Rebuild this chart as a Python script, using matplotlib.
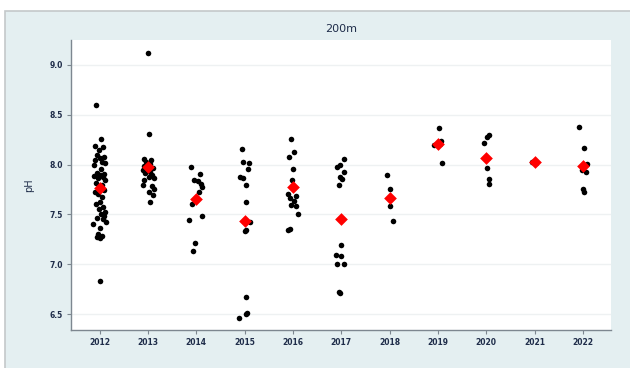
import numpy as np
import matplotlib.pyplot as plt
from matplotlib.patches import Rectangle

# pH readings at 200 m
years = [2012, 2013, 2014, 2015, 2016, 2017, 2018, 2019, 2020, 2021, 2022]

ph_2012 = [8.60, 8.26, 8.19, 8.18, 8.15, 8.10, 8.08, 8.07, 8.05, 8.03, 8.02,
           8.00, 7.96, 7.92, 7.91, 7.90, 7.89, 7.88, 7.87, 7.85, 7.82, 7.80,
           7.78, 7.74, 7.72, 7.70, 7.67, 7.62, 7.60, 7.57, 7.55, 7.52, 7.50,
           7.48, 7.46, 7.45, 7.42, 7.40, 7.36, 7.30, 7.28, 7.27, 7.26, 6.83]
jit_2012 = [-0.08, 0.03, -0.10, 0.08, -0.02, -0.05, 0.09, 0.02, -0.09, 0.06,
            0.12, -0.12, 0.04, -0.06, 0.10, 0.00, -0.11, 0.07, -0.03, 0.11,
            -0.08, 0.05, -0.01, 0.09, -0.10, -0.04, 0.06, 0.00, -0.07, 0.08,
            -0.02, 0.11, 0.03, 0.10, -0.05, 0.07, 0.13, -0.14, 0.02, -0.04,
            0.06, -0.06, 0.01, 0.00]

ph_2013 = [9.12, 8.31, 8.06, 8.05, 8.03, 8.01, 7.99, 7.97, 7.95, 7.93, 7.92,
           7.90, 7.88, 7.87, 7.85, 7.80, 7.78, 7.75, 7.72, 7.69, 7.62]
jit_2013 = [0.00, 0.02, -0.09, 0.07, -0.03, 0.04, -0.08, 0.10, -0.11, 0.05,
            -0.05, 0.09, 0.02, 0.12, -0.07, -0.10, 0.08, 0.13, 0.03, 0.11, 0.05]

ph_2014 = [7.98, 7.91, 7.85, 7.84, 7.81, 7.77, 7.72, 7.60, 7.48, 7.44, 7.21, 7.13]
jit_2014 = [-0.10, 0.07, -0.04, 0.03, 0.09, 0.12, 0.06, -0.08, 0.12, -0.14,
            -0.02, -0.06]

ph_2015 = [8.16, 8.03, 8.02, 7.96, 7.88, 7.87, 7.80, 7.62, 7.42, 7.34, 7.33,
           6.67, 6.51, 6.50, 6.46]
jit_2015 = [-0.05, -0.04, 0.10, 0.08, -0.09, -0.03, 0.02, 0.04, 0.12, 0.02,
            0.00, 0.02, 0.06, 0.03, -0.12]

ph_2016 = [8.26, 8.13, 8.08, 7.96, 7.85, 7.70, 7.68, 7.66, 7.63, 7.59, 7.58,
           7.50, 7.35, 7.34]
jit_2016 = [-0.04, 0.02, -0.08, 0.00, -0.01, -0.10, 0.06, -0.06, 0.02, -0.03,
            0.06, 0.10, -0.06, -0.10]

ph_2017 = [8.06, 8.00, 7.98, 7.93, 7.88, 7.86, 7.80, 7.19, 7.09, 7.08, 7.00,
           7.00, 6.72, 6.71]
jit_2017 = [0.06, -0.02, -0.09, 0.06, -0.02, 0.02, -0.04, 0.00, -0.10, 0.00,
            -0.09, 0.06, -0.05, -0.02]

ph_2018 = [7.90, 7.75, 7.66, 7.58, 7.43]
jit_2018 = [-0.05, 0.00, 0.02, 0.00, 0.07]

ph_2019 = [8.37, 8.24, 8.21, 8.20, 8.02]
jit_2019 = [0.03, 0.07, 0.04, -0.08, 0.09]

ph_2020 = [8.30, 8.28, 8.22, 7.97, 7.86, 7.81]
jit_2020 = [0.05, 0.01, -0.04, 0.01, 0.05, 0.05]

ph_2021 = [8.03, 8.02]
jit_2021 = [-0.06, 0.02]

ph_2022 = [8.38, 8.17, 8.01, 7.99, 7.95, 7.93, 7.75, 7.72]
jit_2022 = [-0.08, 0.02, 0.08, -0.02, -0.02, 0.06, 0.00, 0.03]

ph_all = [ph_2012, ph_2013, ph_2014, ph_2015, ph_2016, ph_2017,
          ph_2018, ph_2019, ph_2020, ph_2021, ph_2022]
jit_all = [jit_2012, jit_2013, jit_2014, jit_2015, jit_2016, jit_2017,
           jit_2018, jit_2019, jit_2020, jit_2021, jit_2022]

# yearly means (red diamonds), as drawn on the chart
ph_mean = [7.76, 7.98, 7.65, 7.43, 7.77, 7.45, 7.66, 8.21, 8.07, 8.03, 7.99]

bg = '#e4eff1'
txt = '#1f2d4a'

fig = plt.figure(figsize=(6.3, 3.68), dpi=100)
fig.patch.set_facecolor('white')

# panel frame behind the plot (only top and left edges show)
frame = Rectangle((5 / 630, -0.1), 1.1, 0.1 + (368 - 11) / 368,
                  transform=fig.transFigure, facecolor=bg,
                  edgecolor='#c4c8ca', linewidth=1.2, zorder=-1)
fig.patches.append(frame)

ax = fig.add_axes([71 / 630, (368 - 330) / 368, 540 / 630, 290 / 368])
ax.set_facecolor('white')

for yr, vals, jit in zip(years, ph_all, jit_all):
    ax.scatter(np.array(jit) + yr, vals, s=16, color='black', zorder=3,
               linewidths=0)

ax.scatter(years, ph_mean, marker='D', s=42, color='#ff0000', zorder=4,
           linewidths=0)

ax.set_xlim(2011.41, 2022.58)
ax.set_ylim(6.34, 9.25)
ax.set_xticks(years)
ax.set_yticks([6.5, 7.0, 7.5, 8.0, 8.5, 9.0])
ax.set_yticklabels(['6.5', '7.0', '7.5', '8.0', '8.5', '9.0'])

ax.grid(axis='y', color='#eef1f2', linewidth=1.0)
ax.set_axisbelow(True)
for side in ['top', 'right']:
    ax.spines[side].set_visible(False)
for side in ['left', 'bottom']:
    ax.spines[side].set_color('#7d8790')
    ax.spines[side].set_linewidth(1.0)

ax.tick_params(axis='both', direction='out', length=3, width=0.8,
               color='#7d8790', labelsize=5.5, labelcolor=txt, pad=3)
for lbl in ax.get_xticklabels() + ax.get_yticklabels():
    lbl.set_fontweight('bold')

ax.set_ylabel('pH', fontsize=7, color=txt, labelpad=11)
fig.text(341 / 630, 1 - 29 / 368, '200m', ha='center', va='center',
         fontsize=8, color=txt)

fig.savefig('out.png', dpi=100, facecolor=fig.get_facecolor())
